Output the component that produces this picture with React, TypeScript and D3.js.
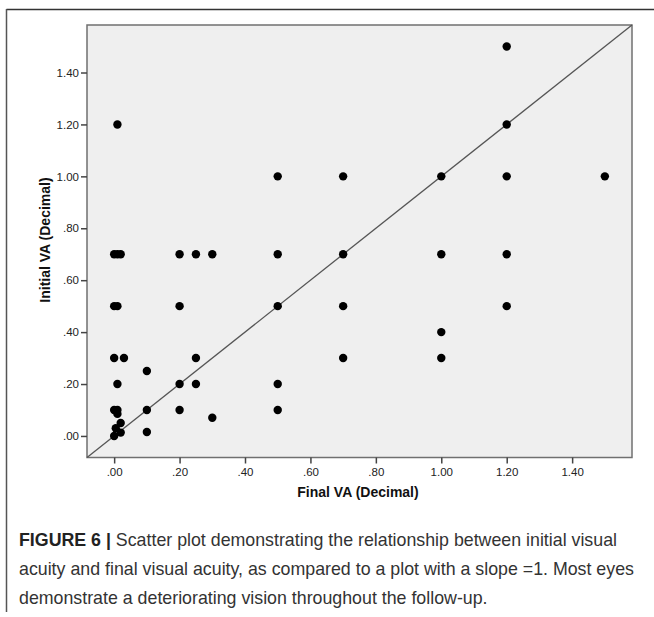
import React, { useEffect, useRef } from 'react'
import * as d3 from 'd3'

// final VA (x) and initial VA (y), decimal, one entry per eye
const finalVA = [
  1.2, 1.2, 1.2, 1.2, 1.2, 1.5,
  1.0, 1.0, 1.0, 1.0,
  0.7, 0.7, 0.7, 0.7,
  0.5, 0.5, 0.5, 0.5, 0.5,
  0.3, 0.25, 0.2, 0.2, 0.25, 0.25, 0.2, 0.2, 0.3,
  0.1, 0.1, 0.1,
  0.03, 0.01,
  0.0, 0.01, 0.02,
  0.0, 0.01,
  0.0, 0.01,
  0.0, 0.01, 0.01, 0.02, 0.005, 0.02, 0.0,
]
const initialVA = [
  1.5, 1.2, 1.0, 0.7, 0.5, 1.0,
  1.0, 0.7, 0.4, 0.3,
  1.0, 0.7, 0.5, 0.3,
  1.0, 0.7, 0.5, 0.2, 0.1,
  0.7, 0.7, 0.7, 0.5, 0.3, 0.2, 0.2, 0.1, 0.07,
  0.25, 0.1, 0.015,
  0.3, 1.2,
  0.7, 0.7, 0.7,
  0.5, 0.5,
  0.3, 0.2,
  0.1, 0.1, 0.085, 0.05, 0.03, 0.013, 0.0,
]
const tickValues = [0, 0.2, 0.4, 0.6, 0.8, 1.0, 1.2, 1.4]
const xTitle = 'Final VA (Decimal)'
const yTitle = 'Initial VA (Decimal)'
const captionLines = [
  'Scatter plot demonstrating the relationship between initial visual',
  'acuity and final visual acuity, as compared to a plot with a slope =1. Most eyes',
  'demonstrate a deteriorating vision throughout the follow-up.',
]

export default function App() {
  const ref = useRef<SVGSVGElement>(null)

  useEffect(() => {
    const svg = d3.select(ref.current)
    svg.selectAll('*').remove()

    const left = 87, right = 632, top = 25, bottom = 457.5
    const domain: [number, number] = [-0.083, 1.583]
    const x = d3.scaleLinear().domain(domain).range([left, right])
    const y = d3.scaleLinear().domain(domain).range([bottom, top])
    const fmt = (v: number) => d3.format('.2f')(v).replace(/^0/, '')
    const font = 'Liberation Sans, Arial, sans-serif'

    // outer figure frame (top + left rule)
    svg.append('line').attr('x1', 6.5).attr('x2', 654).attr('y1', 9.5).attr('y2', 9.5)
      .attr('stroke', '#333').attr('stroke-width', 1.5)
    svg.append('line').attr('x1', 6.5).attr('x2', 6.5).attr('y1', 9).attr('y2', 612)
      .attr('stroke', '#555').attr('stroke-width', 1.5)

    // plot background
    svg.append('rect').attr('x', left).attr('y', top)
      .attr('width', right - left).attr('height', bottom - top)
      .attr('fill', '#efefef').attr('stroke', '#707070').attr('stroke-width', 1.5)

    // slope = 1 reference line
    svg.append('line')
      .attr('x1', x(domain[0])).attr('y1', y(domain[0]))
      .attr('x2', x(domain[1])).attr('y2', y(domain[1]))
      .attr('stroke', '#555').attr('stroke-width', 1.3)

    const xAxis = svg.append('g').attr('transform', 'translate(0,' + bottom + ')')
      .call(d3.axisBottom(x).tickValues(tickValues).tickFormat(fmt as any).tickSize(6).tickPadding(4))
    const yAxis = svg.append('g').attr('transform', 'translate(' + left + ',0)')
      .call(d3.axisLeft(y).tickValues(tickValues).tickFormat(fmt as any).tickSize(6).tickPadding(2))
    ;[xAxis, yAxis].forEach(g => {
      g.select('.domain').remove()
      g.selectAll('line').attr('stroke', '#444').attr('stroke-width', 1.5)
      g.selectAll('text').attr('font-family', font)
        .attr('font-size', 11.5).attr('fill', '#222')
    })

    // points
    svg.append('g').selectAll('circle')
      .data(finalVA.map((v, i) => [v, initialVA[i]]))
      .enter().append('circle')
      .attr('cx', d => x(d[0]))
      .attr('cy', d => y(d[1]))
      .attr('r', 4.2)
      .attr('fill', '#000')

    // axis titles
    svg.append('text').attr('x', 358).attr('y', 497).attr('text-anchor', 'middle')
      .attr('font-family', font).attr('font-weight', 'bold')
      .attr('font-size', 14).attr('fill', '#111').text(xTitle)
    svg.append('text').attr('transform', 'translate(50,240) rotate(-90)').attr('text-anchor', 'middle')
      .attr('font-family', font).attr('font-weight', 'bold')
      .attr('font-size', 14).attr('fill', '#111').text(yTitle)

    // caption
    const cap = svg.append('g').attr('font-family', font)
      .attr('font-size', 17.8).attr('fill', '#333')
    const first = cap.append('text').attr('x', 19).attr('y', 546)
    first.append('tspan').attr('font-weight', 'bold').attr('fill', '#222').text('FIGURE 6 | ')
    first.append('tspan').text(captionLines[0])
    captionLines.slice(1).forEach((line, i) => {
      cap.append('text').attr('x', 19).attr('y', 575 + i * 29).text(line)
    })
  }, [])

  return (
    <svg ref={ref} width={654} height={617}
      style={{ position: 'absolute', left: 0, top: 0, background: '#fff' }} />
  )
}
